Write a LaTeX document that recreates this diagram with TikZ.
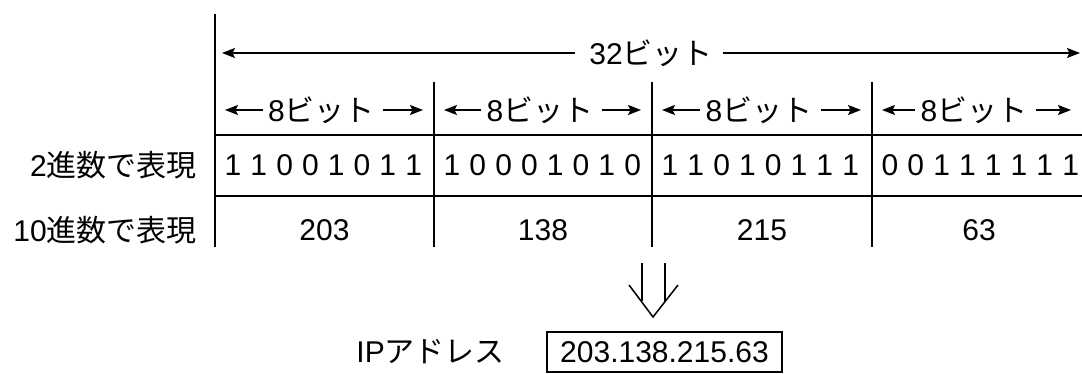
\documentclass[tikz,border=0pt]{standalone}
\usepackage{fontspec}
\setmainfont{Liberation Sans}
\newfontfamily\jp{Noto Sans CJK JP}
\usetikzlibrary{arrows.meta}
\begin{document}
\begin{tikzpicture}[x=1pt,y=-1pt,
  rule/.style={line width=1.8pt},
  arr/.style={line width=1.8pt,-{Stealth[length=13pt,width=10pt,inset=2.5pt]}},
  txt/.style={font=\fontsize{30}{32}\selectfont, inner sep=0pt},
  jtxt/.style={font=\fontsize{30}{32}\selectfont, inner sep=0pt}]
\useasboundingbox (0,0) rectangle (1082,374);
% table frame
\coordinate (topL) at (215,14);
\coordinate (botL) at (215,247);
\draw[rule] (topL) -- (botL);
\foreach \x [count=\k] in {434,652,872}{
  \coordinate (vt\k) at (\x,82);
  \coordinate (vb\k) at (\x,247);
  \draw[rule] (vt\k) -- (vb\k);
}
\coordinate (h1a) at (215,135); \coordinate (h1b) at (1082,135);
\coordinate (h2a) at (215,196); \coordinate (h2b) at (1082,196);
\draw[rule] (h1a) -- (h1b);
\draw[rule] (h2a) -- (h2b);
% 32 bit
\node[jtxt] (t32) at (651,53) {32{\jp ビット}};
\coordinate (a32L) at (222,53);
\coordinate (a32R) at (1080,53);
\draw[arr] ([xshift=-14pt]t32.west) -- (a32L);
\draw[arr] ([xshift=10pt]t32.east) -- (a32R);
% 8 bit labels
\foreach \xl/\xr [count=\k] in {215/434,434/652,652/872,872/1082}{
  \node[jtxt] (t8\k) at ({(\xl+\xr)/2-3},110) {8{\jp ビット}};
  \coordinate (l8\k) at (\xl+10,110);
  \coordinate (r8\k) at (\xr-11,110);
  \draw[arr] ([xshift=-5pt]t8\k.west) -- (l8\k);
  \draw[arr] ([xshift=8pt]t8\k.east) -- (r8\k);
}
% binary row
\node[jtxt,anchor=east] (lbin) at (197,165) {2{\jp 進数で表現}};
\foreach \xl/\bits [count=\k] in {215/{1,1,0,0,1,0,1,1},434/{1,0,0,0,1,0,1,0},652/{1,1,0,1,0,1,1,1},872/{0,0,1,1,1,1,1,1}}{
  \foreach \d [count=\i] in \bits{
    \node[txt] (b\k-\i) at ({\xl+18+25.8*(\i-1)},165) {\d};
  }
}
% decimal row
\node[jtxt,anchor=east] (ldec) at (197,230) {10{\jp 進数で表現}};
\node[txt] (d1) at (324.5,230) {203};
\node[txt] (d2) at (543,230) {138};
\node[txt] (d3) at (762,230) {215};
\node[txt] (d4) at (979,230) {63};
% double arrow
\coordinate (sL1) at (642,263); \coordinate (sL2) at (642,301);
\coordinate (sR1) at (665,263); \coordinate (sR2) at (665,301);
\coordinate (hL) at (629,285); \coordinate (hT) at (653,317); \coordinate (hR) at (678,285);
\draw[line width=1.5pt] (sL1) -- (sL2);
\draw[line width=1.5pt] (sR1) -- (sR2);
\draw[line width=1.5pt,line join=miter] (hL) -- (hT) -- (hR);
% result
\node[jtxt,anchor=east] (ip) at (505,352) {IP{\jp アドレス}};
\node[txt,draw,line width=1.8pt,minimum width=235pt,minimum height=40pt] (addr) at (664.5,352) {203.138.215.63};
\end{tikzpicture}
\end{document}
